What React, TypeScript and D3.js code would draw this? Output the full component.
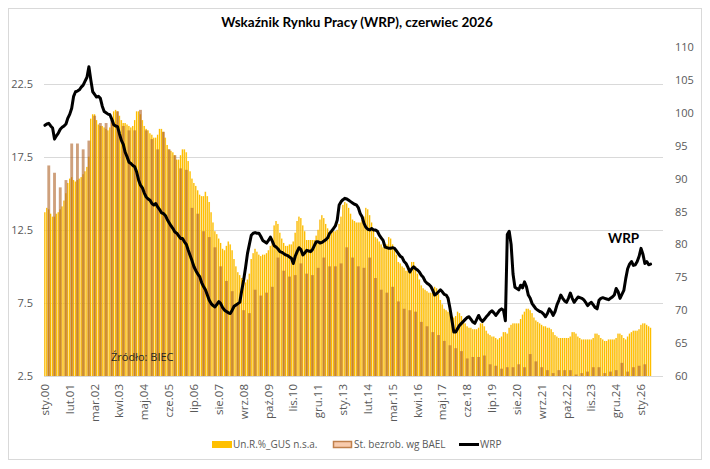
import { useEffect, useRef } from "react";
import * as d3 from "d3";

// Registered unemployment rate, GUS, monthly, n.s.a. (sty.2000 – cze.2026)
const gusRate = [
  13.7, 14.0, 13.9, 13.6, 13.4, 13.4, 13.6, 13.7, 13.9, 14.1, 14.5, 15.0,
  15.7, 16.0, 16.1, 15.9, 15.8, 15.9, 16.0, 16.1, 16.3, 16.5, 16.8, 17.5,
  20.1, 20.4, 20.4, 20.0, 19.7, 19.6, 19.6, 19.5, 19.4, 19.3, 19.5, 20.0,
  20.6, 20.7, 20.6, 20.3, 20.0, 19.8, 19.8, 19.7, 19.6, 19.5, 19.6, 20.0,
  20.6, 20.6, 20.4, 20.0, 19.6, 19.4, 19.3, 19.1, 19.0, 18.8, 18.8, 19.0,
  19.4, 19.4, 19.2, 18.8, 18.3, 18.0, 17.9, 17.8, 17.6, 17.3, 17.3, 17.6,
  18.0, 18.0, 17.8, 17.2, 16.5, 16.0, 15.7, 15.5, 15.2, 14.9, 14.8, 14.8,
  15.1, 14.8, 14.4, 13.7, 13.0, 12.4, 12.2, 11.9, 11.6, 11.2, 11.1, 11.4,
  11.7, 11.5, 11.1, 10.5, 10.0, 9.6, 9.4, 9.2, 9.1, 8.9, 9.1, 9.5,
  10.5, 10.9, 11.2, 11.0, 10.8, 10.7, 10.8, 10.8, 10.9, 11.1, 11.4, 11.9,
  12.8, 13.1, 12.9, 12.3, 11.9, 11.6, 11.4, 11.4, 11.5, 11.5, 11.7, 12.3,
  13.1, 13.4, 13.3, 12.8, 12.4, 11.8, 11.8, 11.8, 11.8, 11.8, 12.1, 12.5,
  13.2, 13.5, 13.3, 12.9, 12.6, 12.3, 12.3, 12.4, 12.4, 12.5, 12.9, 13.4,
  14.2, 14.4, 14.3, 14.0, 13.6, 13.2, 13.1, 13.0, 13.0, 13.0, 13.2, 13.4,
  14.0, 13.9, 13.5, 13.0, 12.5, 12.0, 11.9, 11.7, 11.5, 11.3, 11.4, 11.5,
  12.0, 11.9, 11.5, 11.2, 10.8, 10.3, 10.2, 10.0, 9.9, 9.7, 9.7, 9.8,
  10.3, 10.3, 10.0, 9.5, 9.1, 8.7, 8.5, 8.4, 8.3, 8.2, 8.2, 8.3,
  8.6, 8.5, 8.1, 7.7, 7.4, 7.1, 7.0, 6.9, 6.8, 6.6, 6.5, 6.6,
  6.9, 6.8, 6.6, 6.3, 6.1, 5.9, 5.8, 5.8, 5.7, 5.7, 5.7, 5.8,
  6.1, 6.1, 5.9, 5.6, 5.4, 5.3, 5.2, 5.2, 5.1, 5.0, 5.1, 5.2,
  5.5, 5.5, 5.4, 5.8, 6.0, 6.1, 6.1, 6.1, 6.1, 6.4, 6.7, 6.9,
  7.1, 7.1, 7.0, 6.8, 6.5, 6.3, 6.2, 6.1, 6.0, 5.9, 5.9, 5.8,
  5.8, 5.7, 5.5, 5.3, 5.2, 5.1, 5.1, 5.1, 5.1, 5.1, 5.1, 5.2,
  5.5, 5.5, 5.4, 5.2, 5.1, 5.0, 5.0, 5.0, 5.0, 5.0, 5.0, 5.1,
  5.4, 5.4, 5.3, 5.1, 5.0, 4.9, 4.9, 5.0, 5.0, 5.0, 5.0, 5.1,
  5.4, 5.4, 5.3, 5.1, 5.0, 5.2, 5.4, 5.5, 5.6, 5.6, 5.6, 5.7,
  6.0, 6.1, 6.1, 6.0, 5.9, 5.8,
];

// LFS (BAEL) unemployment rate, quarterly, plotted at the last month of each quarter
const baelRate = [
  16.9, 16.4, 15.4, 15.9,
  18.4, 18.4, 18.0, 18.6,
  20.3, 19.8, 19.8, 20.0,
  20.6, 19.6, 19.3, 19.3,
  20.7, 19.3, 18.7, 18.0,
  19.2, 18.0, 17.6, 16.7,
  16.6, 14.0, 13.6, 12.4,
  12.0, 11.3, 10.0, 9.0,
  8.3, 7.4, 7.0, 6.8,
  8.4, 8.0, 8.2, 8.6,
  10.6, 9.7, 9.3, 9.4,
  10.2, 9.5, 9.4, 9.9,
  10.6, 10.0, 10.0, 10.2,
  11.3, 10.6, 10.0, 9.9,
  10.6, 9.2, 8.4, 8.2,
  8.6, 7.6, 7.1, 7.0,
  6.9, 6.2, 5.9, 5.5,
  5.3, 4.9, 4.6, 4.4,
  4.2, 3.7, 3.8, 3.8,
  3.9, 3.3, 3.2, 3.0,
  3.1, 3.1, 3.3, 3.1,
  4.0, 3.5, 3.1, 2.9,
  2.7, 2.9, 2.9, 2.9,
  2.6, 2.7, 2.8, 3.1,
  3.1, 2.7, 2.8, 2.9,
  3.4, 2.8, 3.1, 3.2,
  3.3,
];

// Wskaźnik Rynku Pracy, monthly
const wrpIndex = [
  98.1, 98.3, 98.4, 98.0, 97.7, 96.0, 96.5, 96.9, 97.5, 97.8, 98.0, 98.3,
  99.2, 99.8, 100.7, 102.5, 103.2, 103.3, 103.5, 103.9, 104.2, 104.8, 105.4, 107.0,
  105.0, 103.2, 102.8, 102.4, 102.5, 102.2, 101.0, 100.2, 100.0, 99.8, 99.7, 99.0,
  98.2, 98.0, 97.9, 96.8, 95.8, 95.2, 94.0, 93.3, 92.5, 92.3, 92.0, 91.8,
  91.0, 89.8, 89.0, 88.6, 87.8, 87.2, 86.9, 86.7, 86.2, 86.0, 86.2, 85.7,
  85.3, 84.8, 84.7, 84.4, 83.8, 83.3, 82.8, 82.4, 81.9, 81.7, 81.3, 80.9,
  80.9, 80.4, 80.0, 79.1, 78.3, 77.5, 76.6, 76.0, 75.5, 75.1, 74.2, 73.6,
  73.1, 72.3, 71.5, 71.0, 70.7, 70.5, 70.9, 71.3, 71.0, 70.4, 70.0, 69.8,
  69.6, 69.5, 70.0, 70.6, 70.8, 71.0, 71.2, 73.0, 74.6, 76.5, 78.6, 80.0,
  81.4, 81.7, 81.8, 81.7, 81.7, 81.2, 80.6, 80.4, 80.2, 80.6, 81.1, 80.5,
  79.8, 79.6, 79.3, 78.9, 78.8, 78.6, 78.4, 78.3, 78.1, 77.9, 77.1, 78.2,
  78.9, 79.5, 79.2, 78.4, 78.7, 79.1, 79.0, 78.9, 79.2, 79.8, 80.4, 80.4,
  80.2, 80.3, 80.5, 80.7, 81.0, 81.7, 82.0, 82.4, 82.8, 83.7, 86.0, 86.5,
  86.8, 87.0, 86.9, 86.7, 86.5, 86.3, 86.1, 86.0, 85.6, 84.7, 84.2, 83.2,
  82.6, 82.3, 82.2, 82.4, 82.2, 82.2, 82.0, 81.4, 81.0, 80.6, 79.6, 79.5,
  79.4, 79.4, 79.5, 79.4, 79.0, 78.6, 78.2, 78.0, 77.4, 77.1, 76.5, 75.8,
  76.3, 76.6, 76.3, 76.1, 75.8, 75.3, 75.0, 74.4, 74.1, 73.9, 73.6, 73.0,
  72.3, 72.5, 72.8, 73.1, 72.8, 72.4, 72.3, 71.8, 70.3, 68.5, 66.7, 66.7,
  67.2, 67.7, 68.0, 68.3, 68.6, 68.9, 69.0, 68.6, 68.2, 68.0, 68.6, 69.2,
  68.6, 68.3, 68.6, 69.0, 69.3, 69.7, 69.9, 69.6, 69.2, 69.6, 70.0, 70.2,
  70.0, 68.4, 81.5, 82.0, 80.0, 75.5, 73.5, 73.3, 73.1, 73.8, 73.4, 74.3,
  73.6, 72.3, 71.8, 71.0, 70.6, 70.2, 70.0, 69.8, 69.7, 69.4, 69.0, 69.5,
  70.2, 69.8, 69.2, 69.8, 70.8, 71.5, 72.3, 71.8, 71.4, 71.2, 71.8, 72.6,
  71.8, 71.2, 71.6, 72.0, 71.9, 71.8, 71.6, 71.2, 70.7, 71.0, 71.2, 70.8,
  70.4, 70.2, 71.5, 71.8, 71.9, 71.8, 71.7, 71.6, 71.8, 72.0, 72.3, 73.3,
  72.8, 71.8, 72.4, 73.0, 74.8, 76.3, 77.0, 77.4, 76.8, 76.9, 77.4, 78.2,
  79.4, 78.5, 77.1, 77.4, 76.9, 77.0,
];

// category axis runs through the end of 2026
const monthCount = 27 * 12;
const tickLabels = [
  "sty.00", "lut.01", "mar.02", "kwi.03", "maj.04", "cze.05", "lip.06", "sie.07",
  "wrz.08", "paź.09", "lis.10", "gru.11", "sty.13", "lut.14", "mar.15", "kwi.16",
  "maj.17", "cze.18", "lip.19", "sie.20", "wrz.21", "paź.22", "lis.23", "gru.24", "sty.26",
];
const leftTicks = [2.5, 7.5, 12.5, 17.5, 22.5];
const rightTicks = [60, 65, 70, 75, 80, 85, 90, 95, 100, 105, 110];

const FONT = "'Open Sans', 'Liberation Sans', sans-serif";
const TEXT_GRAY = "#595959";

export default function App() {
  const ref = useRef<SVGSVGElement>(null);

  useEffect(() => {
    if (!ref.current) return;
    const svg = d3.select(ref.current);
    svg.selectAll("*").remove();

    const plot = { left: 44, right: 663, top: 47, bottom: 376 };

    const x = d3
      .scaleBand<number>()
      .domain(d3.range(monthCount))
      .range([plot.left, plot.right]);
    const step = x.step();
    const cx = (i: number) => (x(i) ?? 0) + step / 2;

    const yL = d3.scaleLinear().domain([2.5, 25]).range([plot.bottom, plot.top]);
    const yR = d3.scaleLinear().domain([60, 110]).range([plot.bottom, plot.top]);

    // chart frame
    svg
      .append("rect")
      .attr("x", 8.5)
      .attr("y", 8.5)
      .attr("width", 693)
      .attr("height", 451)
      .attr("fill", "#fff")
      .attr("stroke", "#d9d9d9");

    const defs = svg.append("defs");
    const grad = defs
      .append("linearGradient")
      .attr("id", "gusFill")
      .attr("x1", 0)
      .attr("y1", 0)
      .attr("x2", 1)
      .attr("y2", 0);
    grad.append("stop").attr("offset", "0%").attr("stop-color", "#f5b000");
    grad.append("stop").attr("offset", "50%").attr("stop-color", "#ffc000");
    grad.append("stop").attr("offset", "100%").attr("stop-color", "#ffd95c");

    svg
      .append("text")
      .attr("x", 357)
      .attr("y", 27)
      .attr("text-anchor", "middle")
      .attr("font-family", "Lato, 'Open Sans', sans-serif")
      .attr("font-weight", 700)
      .attr("font-size", 13.5)
      .attr("fill", "#000")
      .text("Wskaźnik Rynku Pracy (WRP), czerwiec 2026");

    // Gridlines on the left-axis ticks
    svg
      .append("g")
      .selectAll("line")
      .data(leftTicks)
      .join("line")
      .attr("x1", plot.left)
      .attr("x2", plot.right)
      .attr("y1", (d) => Math.round(yL(d)) + 0.5)
      .attr("y2", (d) => Math.round(yL(d)) + 0.5)
      .attr("stroke", "#d9d9d9")
      .attr("stroke-width", 1);

    // GUS monthly bars
    const gusW = step * 0.8;
    svg
      .append("g")
      .selectAll("rect")
      .data(gusRate)
      .join("rect")
      .attr("x", (_, i) => cx(i) - gusW / 2)
      .attr("width", gusW)
      .attr("y", (d) => yL(d))
      .attr("height", (d) => yL(2.5) - yL(d))
      .attr("fill", "url(#gusFill)");

    // BAEL quarterly bars drawn over the monthly ones
    const baelW = step * 1.5;
    svg
      .append("g")
      .selectAll("rect")
      .data(baelRate)
      .join("rect")
      .attr("x", (_, q) => cx(q * 3 + 2) - baelW / 2)
      .attr("width", baelW)
      .attr("y", (d) => yL(d))
      .attr("height", (d) => yL(2.5) - yL(d))
      .attr("fill", "#b0662c")
      .attr("fill-opacity", 0.62);

    // WRP line on the right axis
    const line = d3
      .line<number>()
      .x((_, i) => cx(i))
      .y((d) => yR(d));
    svg
      .append("path")
      .datum(wrpIndex)
      .attr("d", line)
      .attr("fill", "none")
      .attr("stroke", "#000")
      .attr("stroke-width", 3)
      .attr("stroke-linejoin", "round")
      .attr("stroke-linecap", "round");

    // Left axis
    svg
      .append("g")
      .attr("transform", `translate(${plot.left - 11},0)`)
      .call(
        d3
          .axisLeft(yL)
          .tickValues(leftTicks)
          .tickSize(0)
          .tickPadding(0)
          .tickFormat((d) => d3.format(".1f")(d as number))
      )
      .call((g) => g.select(".domain").remove())
      .call((g) =>
        g
          .selectAll("text")
          .attr("fill", TEXT_GRAY)
          .attr("font-family", FONT)
          .attr("font-size", 11)
      );

    // Right axis
    svg
      .append("g")
      .attr("transform", `translate(675,0)`)
      .call(d3.axisRight(yR).tickValues(rightTicks).tickSize(0).tickPadding(0))
      .call((g) => g.select(".domain").remove())
      .call((g) =>
        g
          .selectAll("text")
          .attr("fill", TEXT_GRAY)
          .attr("font-family", FONT)
          .attr("font-size", 11)
      );

    // Category axis, one label every 13 months
    const labelByIndex = new Map(tickLabels.map((t, k) => [k * 13, t]));
    svg
      .append("g")
      .attr("transform", `translate(0,${plot.bottom})`)
      .call(
        d3
          .axisBottom(x)
          .tickValues(Array.from(labelByIndex.keys()))
          .tickSize(0)
          .tickFormat((d) => labelByIndex.get(d as number) ?? "")
      )
      .call((g) => g.select(".domain").remove())
      .call((g) =>
        g
          .selectAll("text")
          .attr("fill", TEXT_GRAY)
          .attr("font-family", FONT)
          .attr("font-size", 11.5)
          .attr("text-anchor", "end")
          .attr("dy", "0.35em")
          .attr("transform", "translate(0,8) rotate(-90)")
          .attr("x", 0)
          .attr("y", 0)
      );

    svg
      .append("text")
      .attr("x", 111)
      .attr("y", 361)
      .attr("font-family", FONT)
      .attr("font-size", 11)
      .attr("fill", "#262626")
      .text("Źródło: BIEC");

    svg
      .append("text")
      .attr("x", 608)
      .attr("y", 243)
      .attr("font-family", "Lato, 'Open Sans', sans-serif")
      .attr("font-weight", 700)
      .attr("font-size", 13.5)
      .attr("fill", "#000")
      .text("WRP");

    // Legend
    const legend = svg
      .append("g")
      .attr("font-family", FONT)
      .attr("font-size", 10)
      .attr("fill", TEXT_GRAY);
    legend.append("rect").attr("x", 212).attr("y", 441).attr("width", 20).attr("height", 7).attr("fill", "#ffc000");
    legend.append("text").attr("x", 233).attr("y", 448).text("Un.R.%_GUS n.s.a.");
    legend
      .append("rect")
      .attr("x", 333.5)
      .attr("y", 441.5)
      .attr("width", 18)
      .attr("height", 6)
      .attr("fill", "#f8cbad")
      .attr("stroke", "#c0804c")
      .attr("stroke-width", 1.5);
    legend.append("text").attr("x", 354).attr("y", 448).text("St. bezrob. wg BAEL");
    legend
      .append("line")
      .attr("x1", 459)
      .attr("x2", 479)
      .attr("y1", 444.5)
      .attr("y2", 444.5)
      .attr("stroke", "#000")
      .attr("stroke-width", 3);
    legend.append("text").attr("x", 480).attr("y", 448).text("WRP");
  }, []);

  return (
    <svg
      ref={ref}
      width={710}
      height={469}
      style={{ position: "absolute", left: 0, top: 0, background: "#fff" }}
    />
  );
}
